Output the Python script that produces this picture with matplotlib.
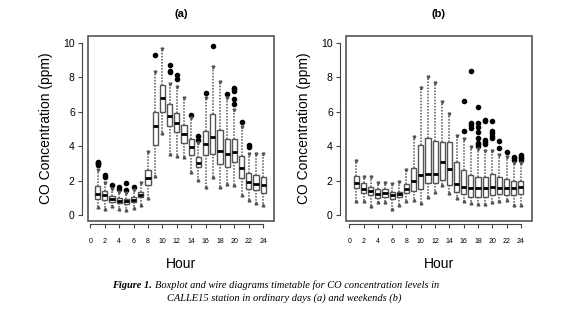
import matplotlib
matplotlib.use("Agg")
import matplotlib.pyplot as plt
from matplotlib.patches import Rectangle

hours = list(range(1, 25))

# (a) ordinary days
whislo_a = [0.45, 0.35, 0.5, 0.32, 0.3, 0.4, 0.6, 1.0, 2.25, 4.75, 3.55, 3.45,
            3.4, 2.52, 2.03, 1.65, 2.23, 1.65, 1.78, 1.74, 1.16, 0.87, 0.68, 0.58]
q1_a = [0.93, 0.88, 0.76, 0.68, 0.65, 0.73, 1.02, 1.72, 4.07, 6.0, 5.17, 4.8,
        4.17, 3.49, 2.77, 3.49, 3.55, 2.99, 2.77, 3.1, 2.13, 1.51, 1.45, 1.26]
med_a = [1.22, 1.16, 0.95, 0.83, 0.79, 0.88, 1.18, 2.18, 5.17, 6.8, 5.78, 5.33,
         4.69, 3.94, 3.04, 4.13, 4.55, 3.74, 3.55, 3.64, 2.75, 1.9, 1.8, 1.74]
q3_a = [1.7, 1.38, 1.1, 0.97, 0.95, 1.03, 1.36, 2.62, 6.0, 7.56, 6.43, 5.95,
        5.23, 4.4, 3.39, 4.91, 5.86, 4.94, 4.4, 4.4, 3.43, 2.42, 2.33, 2.23]
whishi_a = [2.6, 1.84, 1.5, 1.36, 1.3, 1.45, 1.85, 3.68, 8.3, 9.65, 7.6, 7.46,
            6.78, 5.62, 4.17, 6.78, 8.63, 7.75, 6.78, 6.11, 5.14, 3.55, 3.53, 3.53]
fliers_a = [[2.9, 3.0, 3.05, 3.1], [2.2, 2.3], [1.75], [1.5, 1.6], [1.45, 1.85],
            [1.65], [], [], [9.3], [], [8.3, 8.4, 8.75], [7.9, 8.15],
            [], [5.8], [4.35, 4.6], [7.1], [9.8], [], [7.05],
            [6.45, 6.72, 7.2, 7.3, 7.4], [5.43], [3.95, 4.05], [], []]

# (b) weekends
whislo_b = [0.83, 0.81, 0.54, 0.73, 0.73, 0.33, 0.58, 0.83, 0.9, 0.72, 1.07, 1.36,
            1.74, 1.26, 0.97, 0.83, 0.7, 0.65, 0.65, 0.75, 0.8, 0.85, 0.6, 0.6]
q1_b = [1.55, 1.26, 1.16, 0.97, 1.07, 0.93, 1.03, 1.26, 1.41, 1.5, 1.84, 1.88,
        2.03, 1.74, 1.36, 1.2, 1.05, 1.07, 1.07, 1.16, 1.2, 1.16, 1.15, 1.2]
med_b = [1.86, 1.49, 1.41, 1.22, 1.26, 1.16, 1.22, 1.49, 1.96, 2.33, 2.36, 2.36,
         3.06, 2.67, 1.8, 1.6, 1.55, 1.55, 1.55, 1.62, 1.58, 1.58, 1.58, 1.6]
q3_b = [2.25, 1.84, 1.65, 1.49, 1.49, 1.36, 1.36, 1.78, 2.71, 4.07, 4.5, 4.3,
        4.26, 4.26, 3.1, 2.62, 2.3, 2.2, 2.2, 2.4, 2.2, 2.1, 2.0, 2.0]
whishi_b = [3.14, 2.23, 2.23, 1.84, 1.84, 1.8, 1.9, 2.62, 4.55, 7.4, 8.05, 7.7,
            6.6, 5.85, 4.6, 4.4, 3.95, 3.85, 3.75, 3.7, 3.5, 3.35, 3.05, 3.0]
fliers_b = [[], [], [], [], [], [], [], [], [], [], [], [], [], [], [],
            [4.9, 6.65], [5.05, 5.25, 5.35, 8.4],
            [4.0, 4.1, 4.2, 4.5, 4.85, 5.1, 5.35, 6.3],
            [4.15, 4.25, 4.35, 5.45, 5.55], [4.45, 4.6, 4.75, 4.9, 5.45],
            [3.9, 4.3], [3.65], [3.2, 3.3, 3.35], [3.2, 3.3, 3.4, 3.5]]

xticks = list(range(0, 25, 2))
yticks = [0, 2, 4, 6, 8, 10]

plt.rcParams['font.family'] = ['Liberation Sans', 'DejaVu Sans']

fig = plt.figure(figsize=(5.8, 3.17), dpi=100)
ax_a = fig.add_axes([88/580, 1-221/317, 186/580, 185/317])
ax_b = fig.add_axes([346/580, 1-221/317, 186/580, 185/317])


def draw(ax, title, lo, q1, med, q3, hi, fl, xlim):
    stats = []
    for i in range(len(hours)):
        stats.append(dict(whislo=lo[i], q1=q1[i], med=med[i], q3=q3[i],
                          whishi=hi[i], fliers=fl[i]))
    ax.bxp(stats, positions=hours, widths=0.72, showcaps=False,
           patch_artist=True, manage_ticks=False,
           boxprops=dict(facecolor='white', edgecolor='#555555', linewidth=1.0),
           medianprops=dict(color='black', linewidth=2.0),
           whiskerprops=dict(color='#555555', linewidth=1.1, linestyle=(0, (1, 1))),
           flierprops=dict(marker='o', markerfacecolor='black',
                           markeredgecolor='black', markersize=3))
    ax.plot(hours, hi, 'v', color='#555555', markersize=2, linestyle='none')
    ax.plot(hours, lo, '^', color='#555555', markersize=2, linestyle='none')
    ax.set_xlim(*xlim)
    ax.set_ylim(-0.35, 10.41)
    ax.set_xticks(xticks)
    ax.set_yticks(yticks)
    ax.tick_params(axis='x', length=3, pad=7, color='#444444', labelsize=5)
    ax.tick_params(axis='y', length=3, pad=2, color='#444444', labelsize=7.5)
    for s in ['top', 'right']:
        ax.spines[s].set_visible(False)
    ax.spines['left'].set_position(('outward', 4.5))
    ax.spines['bottom'].set_position(('outward', 2.2))
    ax.spines['left'].set_bounds(0, 10)
    ax.spines['bottom'].set_bounds(0, 24)
    for s in ['left', 'bottom']:
        ax.spines[s].set_color('#444444')
    ax.add_patch(Rectangle((0, 0), 1, 1, transform=ax.transAxes, fill=False,
                           edgecolor='#555555', linewidth=1.2, clip_on=False,
                           zorder=5))
    ax.set_xlabel('Hour', fontsize=10, labelpad=9)
    ax.set_ylabel('CO Concentration (ppm)', fontsize=10, labelpad=7)
    ax.set_title(title, fontsize=8, fontweight='bold', pad=14)


draw(ax_a, '(a)', whislo_a, q1_a, med_a, q3_a, whishi_a, fliers_a, (-0.32, 25.5))
draw(ax_b, '(b)', whislo_b, q1_b, med_b, q3_b, whishi_b, fliers_b, (-0.46, 25.55))

serif = ['Liberation Serif', 'DejaVu Serif']
t1 = fig.text(112/580, 1-290/317, 'Figure 1.', fontsize=7.5, family=serif,
              style='italic', fontweight='bold', va='bottom', ha='left')
ax_a.annotate('Boxplot and wire diagrams timetable for CO concentration levels in',
              xy=(1, 0), xycoords=t1, xytext=(2.5, 0), textcoords='offset points',
              fontsize=7.5, family=serif, style='italic', va='bottom', ha='left',
              annotation_clip=False)
fig.text(284/580, 1-303/317, 'CALLE15 station in ordinary days (a) and weekends (b)',
         fontsize=7.5, family=serif, style='italic', va='bottom', ha='center')

fig.savefig('out.png', dpi=100)
